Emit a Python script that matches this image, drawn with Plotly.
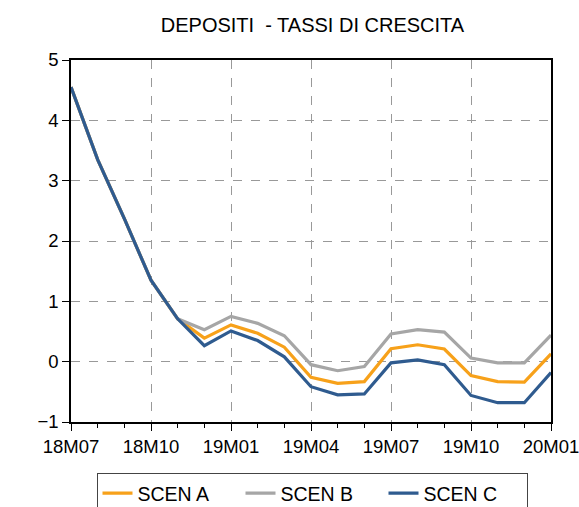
import plotly.graph_objects as go

months = ["18M07","18M08","18M09","18M10","18M11","18M12","19M01","19M02","19M03",
          "19M04","19M05","19M06","19M07","19M08","19M09","19M10","19M11","19M12","20M01"]
scen_a = [4.55, 3.35, 2.37, 1.35, 0.71, 0.39, 0.61, 0.47, 0.24, -0.26, -0.36, -0.33,
          0.215, 0.28, 0.21, -0.23, -0.33, -0.34, 0.13]
scen_b = [4.55, 3.35, 2.37, 1.35, 0.71, 0.53, 0.75, 0.635, 0.43, -0.05, -0.15, -0.08,
          0.46, 0.53, 0.49, 0.06, -0.02, -0.02, 0.44]
scen_c = [4.55, 3.35, 2.37, 1.35, 0.71, 0.265, 0.51, 0.35, 0.08, -0.415, -0.55, -0.535,
          -0.02, 0.03, -0.05, -0.56, -0.68, -0.68, -0.18]
tick_labels = ["18M07", "18M10", "19M01", "19M04", "19M07", "19M10", "20M01"]
yticks = [-1, 0, 1, 2, 3, 4, 5]

x = list(range(len(months)))
tickvals = [months.index(t) for t in tick_labels]

fig = go.Figure()
for name, vals, col in [("SCEN A", scen_a, "#F7A11A"),
                        ("SCEN B", scen_b, "#A6A6A6"),
                        ("SCEN C", scen_c, "#2F5B8F")]:
    fig.add_trace(go.Scatter(x=x, y=vals, mode="lines", name=name,
                             line=dict(color=col, width=3.2)))

W, H = 579, 507
FS = 18.5
font = dict(family="Liberation Sans, Arial, sans-serif", size=FS, color="black")
fig.update_layout(
    width=W, height=H,
    margin=dict(l=71, r=28, t=60, b=85, autoexpand=False),
    paper_bgcolor="white", plot_bgcolor="white",
    font=font,
    title=dict(text="DEPOSITI  - TASSI DI CRESCITA", x=312.5 / W, xanchor="center",
               y=1 - 24.5 / H, yanchor="middle", font=dict(size=20)),
    showlegend=True,
    legend=dict(orientation="h", x=(312 - 71) / 480, xanchor="center", y=-51/362, yanchor="top",
                bordercolor="#444", borderwidth=1, font=dict(size=19.5),
                entrywidth=98, entrywidthmode="pixels", tracegroupgap=0),
)
fig.update_xaxes(range=[0, 18], tickmode="array", tickvals=tickvals, ticktext=tick_labels,
                 showgrid=True, gridcolor="#999999", griddash="dash", gridwidth=1,
                 showline=True, linecolor="black", linewidth=1.5, mirror=True,
                 ticks="outside", ticklen=7, tickcolor="black", automargin=False,
                 ticklabeloverflow="allow",
                 minor=dict(tickmode="linear", tick0=0, dtick=1, ticks="outside",
                            ticklen=4, tickcolor="black", showgrid=False),
                 zeroline=False, tickfont=dict(size=FS))
fig.update_yaxes(range=[-1, 5], tickmode="array", tickvals=yticks,
                 showgrid=True, gridcolor="#999999", griddash="dash", gridwidth=1,
                 showline=True, linecolor="black", linewidth=1.5, mirror=True,
                 ticks="outside", ticklen=7, tickcolor="black", automargin=False,
                 zeroline=False, tickfont=dict(size=FS))

fig.write_html("out.html", config={"displayModeBar": False},
               post_script="document.body.style.margin='0';document.body.style.overflow='hidden';")
